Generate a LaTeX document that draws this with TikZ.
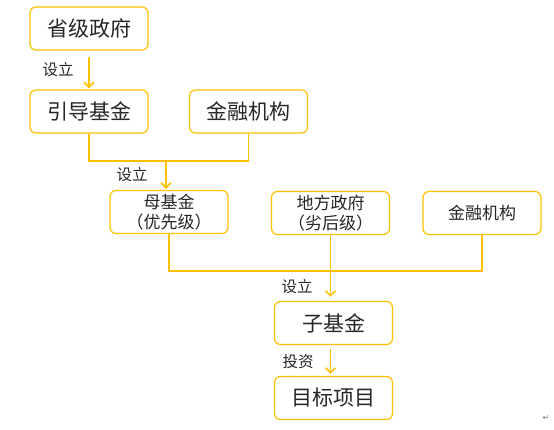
\documentclass[tikz,border=0pt]{standalone}
\usepackage{fontspec}
\setmainfont{Noto Sans CJK SC}
\newfontfamily\symfont{DejaVu Sans}
\usepackage{xcolor}
\usetikzlibrary{arrows.meta, positioning}
\definecolor{boxorange}{RGB}{255,192,0}

\begin{document}
\begin{tikzpicture}[
    x=1pt, y=-1pt,
    block/.style={rectangle, draw=boxorange, fill=white, line width=1.2pt, minimum width=118pt, minimum height=43pt, rounded corners=6pt, text=black!85, font=\fontsize{21}{24}\selectfont},
    smallblock/.style={block, align=center, inner sep=0pt, font=\fontsize{17}{19.5}\selectfont},
    link/.style={draw=boxorange, line width=1.6pt},
    arrow/.style={link, -{Straight Barb[length=5pt, width=10pt]}},
    tag/.style={text=black!85, font=\fontsize{15.5}{17}\selectfont}
]
\useasboundingbox (0,0) rectangle (554,429);

\node[block] (prov) at (89,28.5) {省级政府};
\node[block] (guide) at (89,111.5) {引导基金};
\node[block] (fin) at (248.5,111.5) {金融机构};
\node[smallblock] (mother) at (169,212) {母基金\\（优先级）};
\node[smallblock] (local) at (330.5,213) {地方政府\\（劣后级）};
\node[smallblock] (fin2) at (482,213) {金融机构};
\node[block] (sub) at (333.5,323) {子基金};
\node[block] (target) at (333.5,398) {目标项目};

\coordinate (j1) at (166,161);
\coordinate (j2) at (330.5,271);

\draw[arrow, shorten <=6pt, shorten >=1pt] (prov.south) -- (guide.north);
\draw[link] (guide.south) |- (j1) -| (fin.south);
\draw[arrow, shorten >=1pt] (j1) -- (j1 |- mother.north);
\draw[link] (mother.south) |- (j2) -| (fin2.south);
\draw[arrow, shorten >=4pt] (local.south) -- (local.south |- sub.north);
\draw[arrow, shorten <=4pt, shorten >=2pt] ([xshift=-3pt]sub.south) -- ([xshift=-3pt]target.north);

\node[tag] (t1) at (58,70) {设立};
\node[tag] (t2) at (132,175) {设立};
\node[tag] (t3) at (297,287) {设立};
\node[tag] (t4) at (298,362) {投资};
\node[text=black!55, font=\symfont\fontsize{8}{8}\selectfont] (mark) at (546,418) {↵};
\end{tikzpicture}
\end{document}
